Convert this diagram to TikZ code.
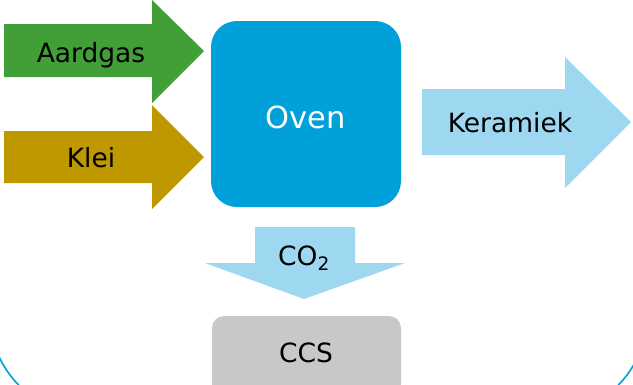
\documentclass[tikz,border=0pt]{standalone}
\usepackage{fontspec}
\setmainfont{DejaVu Sans}
\definecolor{gasgreen}{RGB}{66,158,55}
\definecolor{kleigold}{RGB}{191,152,0}
\definecolor{ovenblue}{RGB}{0,160,218}
\definecolor{lightblue}{RGB}{157,215,240}
\definecolor{ccsgray}{RGB}{200,200,200}
\tikzset{
  lbl/.style={anchor=base, inner sep=0pt, font=\fontsize{26.5}{31}\selectfont, text=black},
}
\begin{document}
\begin{tikzpicture}[x=1pt,y=-1pt]
\useasboundingbox (0,0) rectangle (633,384);
\clip (0,0) rectangle (633,384);
% outer frame (only bottom corners visible)
\draw[ovenblue, line width=1.6pt, rounded corners=100pt] (-10,-400) rectangle (647,415);
% Aardgas arrow
\fill[gasgreen] (4,24) -- (152,24) -- (152,0) -- (204,51) -- (152,103) -- (152,77) -- (4,77) -- cycle;
\node[lbl] (aardgas) at (91,62) {Aardgas};
% Klei arrow
\fill[kleigold] (4,131) -- (152,131) -- (152,105) -- (204,157) -- (152,209) -- (152,183) -- (4,183) -- cycle;
\node[lbl] (klei) at (91,167) {Klei};
% Oven
\fill[ovenblue, rounded corners=26pt] (211,21) rectangle (401,207);
\node[anchor=base, inner sep=0pt, font=\fontsize{30.5}{36}\selectfont, text=white] (oven) at (306,128) {Oven};
% Keramiek arrow
\fill[lightblue] (422,89) -- (565,89) -- (565,57) -- (631,122) -- (565,188) -- (565,155) -- (422,155) -- cycle;
\node[lbl] (keramiek) at (510,132) {Keramiek};
% CO2 arrow
\fill[lightblue] (255,227) -- (355,227) -- (355,263) -- (405,263) -- (304,299) -- (205,263) -- (255,263) -- cycle;
\node[lbl] (co2) at (304,265) {CO\textsubscript{2}};
% CCS box
\fill[ccsgray, rounded corners=12pt] (212,316) rectangle (401,396);
\node[lbl] (ccs) at (306,362) {CCS};
\end{tikzpicture}
\end{document}
